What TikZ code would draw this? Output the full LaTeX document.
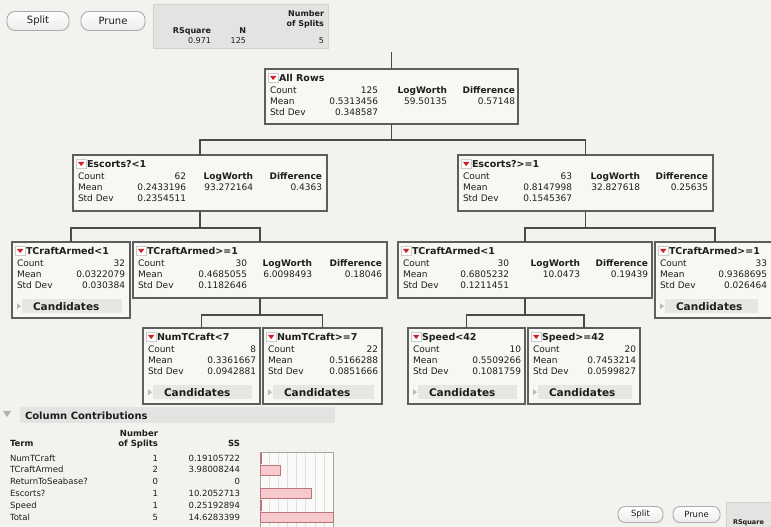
\documentclass[tikz,border=0pt]{standalone}
\usepackage{fontspec}
\setmainfont{DejaVu Sans}
\usetikzlibrary{calc}
\definecolor{bgcol}{HTML}{F2F2EE}
\definecolor{boxfill}{HTML}{F7F7F4}
\definecolor{boxline}{HTML}{5E5E5E}
\definecolor{conncol}{HTML}{4A4A4A}
\definecolor{panelcol}{HTML}{E3E3E1}
\definecolor{candfill}{HTML}{E6E6E3}
\definecolor{txtc}{HTML}{1E1E1E}
\definecolor{redtri}{HTML}{D0202A}
\definecolor{pinkbar}{HTML}{F7C9CD}
\definecolor{pinkline}{HTML}{B9747C}
\tikzset{
 box/.style={draw=boxline, line width=1.2pt, fill=boxfill, inner sep=0pt, outer sep=0pt, rectangle},
 txt/.style={inner sep=0pt, outer sep=0pt, text=txtc, font=\fontsize{9}{11}\selectfont},
 hdr/.style={txt, font=\fontsize{9}{11}\selectfont\bfseries},
 ttl/.style={txt, font=\fontsize{9.5}{11}\selectfont\bfseries},
 cand/.style={txt, font=\fontsize{10.5}{12}\selectfont\bfseries},
 ptxt/.style={txt, font=\fontsize{8}{10}\selectfont},
 phdr/.style={txt, font=\fontsize{8}{10}\selectfont\bfseries},
 ctxt/.style={txt, font=\fontsize{8.5}{10}\selectfont},
 chdr/.style={txt, font=\fontsize{8.5}{10}\selectfont\bfseries},
 connline/.style={draw=conncol, line width=1.1pt},
 btn/.style={draw=gray!65, line width=0.9pt, rounded corners=8pt, top color=white, bottom color=gray!15, inner sep=0pt, text=txtc},
 panelbox/.style={fill=panelcol, draw=gray!35, line width=0.6pt, inner sep=0pt, outer sep=0pt, anchor=north west},
}
\newcommand{\jbox}[5]{\node[box, minimum width=#4pt, minimum height=#5pt, anchor=north west] (#1) at (#2,#3) {};}
\newcommand{\jtitle}[2]{%
 \node[draw=gray!40, fill=white, line width=0.4pt, minimum width=10pt, minimum height=9pt, inner sep=0pt, anchor=north west] (#1-ic) at ([xshift=3pt,yshift=-4pt]#1.north west) {};
 \fill[redtri] ([xshift=-3.2pt,yshift=1.8pt]#1-ic.center) -- ([xshift=3.2pt,yshift=1.8pt]#1-ic.center) -- ([yshift=-2.4pt]#1-ic.center) -- cycle;
 \node[ttl, anchor=base west] (#1-t) at ([xshift=14pt,yshift=-12.5pt]#1.north west) {#2};
}
\newcommand{\jstats}[5]{%
 \node[txt, anchor=base west] (#1-cl) at ([xshift=5pt,yshift=-24pt]#1.north west) {Count};
 \node[txt, anchor=base east] (#1-cv) at ([xshift=#2pt,yshift=-24pt]#1.north west) {#3};
 \node[txt, anchor=base west] (#1-ml) at ([xshift=5pt,yshift=-35pt]#1.north west) {Mean};
 \node[txt, anchor=base east] (#1-mv) at ([xshift=#2pt,yshift=-35pt]#1.north west) {#4};
 \node[txt, anchor=base west] (#1-sl) at ([xshift=5pt,yshift=-46pt]#1.north west) {Std Dev};
 \node[txt, anchor=base east] (#1-sv) at ([xshift=#2pt,yshift=-46pt]#1.north west) {#5};
}
\newcommand{\jsplit}[5]{%
 \node[hdr, anchor=base east] (#1-lh) at ([xshift=#2pt,yshift=-24pt]#1.north west) {LogWorth};
 \node[txt, anchor=base east] (#1-lv) at ([xshift=#2pt,yshift=-35pt]#1.north west) {#4};
 \node[hdr, anchor=base east] (#1-dh) at ([xshift=#3pt,yshift=-24pt]#1.north west) {Difference};
 \node[txt, anchor=base east] (#1-dv) at ([xshift=#3pt,yshift=-35pt]#1.north west) {#5};
}
\newcommand{\jcand}[2]{%
 \node[fill=candfill, minimum width=#2pt, minimum height=14pt, inner sep=0pt, anchor=north west] (#1-cb) at ([xshift=10pt,yshift=-57pt]#1.north west) {};
 \fill[gray!55] ([xshift=-5pt,yshift=3pt]#1-cb.west) -- ([xshift=-5pt,yshift=-3pt]#1-cb.west) -- ([xshift=-1pt]#1-cb.west) -- cycle;
 \node[cand, anchor=base west] (#1-ct) at ([xshift=11pt,yshift=-4pt]#1-cb.west) {Candidates};
}
\begin{document}
\begin{tikzpicture}[x=1pt,y=-1pt]
\useasboundingbox (0,0) rectangle (771,527);
\clip (0,0) rectangle (771,527);
\fill[bgcol] (0,0) rectangle (771,527);

% top buttons and summary panel
\node[btn, minimum width=62pt, minimum height=19pt, font=\fontsize{10}{12}\selectfont] (bsplit) at (38,21) {Split};
\node[btn, minimum width=64pt, minimum height=19pt, font=\fontsize{10}{12}\selectfont] (bprune) at (113,21) {Prune};
\node[panelbox, minimum width=175pt, minimum height=44pt] (pnl) at (153,4) {};
\node[phdr, anchor=base east] (pnum) at (324,17) {Number};
\node[phdr, anchor=base east] (pofs) at (324,27) {of Splits};
\node[phdr, anchor=base east] (prsq) at (211,34) {RSquare};
\node[phdr, anchor=base east] (pn) at (246,34) {N};
\node[ptxt, anchor=base east] (pv1) at (211,44) {0.971};
\node[ptxt, anchor=base east] (pv2) at (246,44) {125};
\node[ptxt, anchor=base east] (pv3) at (324,44) {5};

% tree boxes
\jbox{root}{265}{69}{253}{55}
\jtitle{root}{All Rows}
\jstats{root}{113}{125}{0.5313456}{0.348587}
\jsplit{root}{182}{250}{59.50135}{0.57148}

\jbox{e1}{73}{155}{254}{56}
\jtitle{e1}{Escorts?<1}
\jstats{e1}{113}{62}{0.2433196}{0.2354511}
\jsplit{e1}{180}{249}{93.272164}{0.4363}

\jbox{e2}{458}{155}{255}{56}
\jtitle{e2}{Escorts?>=1}
\jstats{e2}{114}{63}{0.8147998}{0.1545367}
\jsplit{e2}{182}{250}{32.827618}{0.25635}

\jbox{a1}{12}{242}{118}{76}
\jtitle{a1}{TCraftArmed<1}
\jstats{a1}{113}{32}{0.0322079}{0.030384}
\jcand{a1}{100}

\jbox{a2}{133}{242}{254}{56}
\jtitle{a2}{TCraftArmed>=1}
\jstats{a2}{114}{30}{0.4685055}{0.1182646}
\jsplit{a2}{179}{249}{6.0098493}{0.18046}

\jbox{a3}{398}{242}{254}{56}
\jtitle{a3}{TCraftArmed<1}
\jstats{a3}{111}{30}{0.6805232}{0.1211451}
\jsplit{a3}{182}{250}{10.0473}{0.19439}

\jbox{a4}{655}{242}{120}{76}
\jtitle{a4}{TCraftArmed>=1}
\jstats{a4}{112}{33}{0.9368695}{0.026464}
\jcand{a4}{93}

\jbox{n1}{143}{328}{117}{76}
\jtitle{n1}{NumTCraft<7}
\jstats{n1}{113}{8}{0.3361667}{0.0942881}
\jcand{n1}{99}

\jbox{n2}{263}{328}{119}{76}
\jtitle{n2}{NumTCraft>=7}
\jstats{n2}{115}{22}{0.5166288}{0.0851666}
\jcand{n2}{101}

\jbox{s1}{408}{328}{117}{76}
\jtitle{s1}{Speed<42}
\jstats{s1}{113}{10}{0.5509266}{0.1081759}
\jcand{s1}{99}

\jbox{s2}{528}{328}{112}{76}
\jtitle{s2}{Speed>=42}
\jstats{s2}{108}{20}{0.7453214}{0.0599827}
\jcand{s2}{94}

% connectors
\coordinate (topc) at (391.5,52);
\draw[connline] (topc) -- (root.north);
\draw[connline] (root.south) -- ++(0,16);
\draw[connline] (e1.north) -- ++(0,-15) -| (e2.north);
\draw[connline] (e1.south) -- ++(0,17);
\draw[connline] (a1.north) -- ++(0,-14) -| (a2.north);
\draw[connline] (e2.south) -- ++(0,17);
\draw[connline] (a3.north) -- ++(0,-14) -| (a4.north);
\draw[connline] (a2.south) -- ++(0,17);
\draw[connline] (n1.north) -- ++(0,-13) -| (n2.north);
\draw[connline] (a3.south) -- ++(0,17);
\draw[connline] (s1.north) -- ++(0,-13) -| (s2.north);

% column contributions
\fill[gray!60] (3,411) -- (11,411) -- (7,417) -- cycle;
\node[panelbox, draw=none, minimum width=315pt, minimum height=16pt] (cchead) at (20,407) {};
\node[txt, font=\fontsize{10}{12}\selectfont\bfseries, anchor=base west] (cctitle) at (25,419) {Column Contributions};
\node[chdr, anchor=base east] (thnum) at (158,436) {Number};
\node[chdr, anchor=base east] (thofs) at (158,446) {of Splits};
\node[chdr, anchor=base west] (thterm) at (10,446) {Term};
\node[chdr, anchor=base east] (thss) at (240,446) {SS};

% chart frame and grid
\fill[white!60!bgcol] (260,452) rectangle (333,530);
\foreach \k in {1,...,7} {\draw[gray!25, line width=0.5pt] ({260+73*\k/8},452) -- ({260+73*\k/8},530);}
\draw[gray!70, line width=0.7pt] (260,530) -- (260,452) -- (333,452) -- (333,530);

\node[ctxt, anchor=base west] (r1t) at (10,461) {NumTCraft};
\node[ctxt, anchor=base east] (r1n) at (158,461) {1};
\node[ctxt, anchor=base east] (r1s) at (240,461) {0.19105722};
\node[ctxt, anchor=base west] (r2t) at (10,472.8) {TCraftArmed};
\node[ctxt, anchor=base east] (r2n) at (158,472.8) {2};
\node[ctxt, anchor=base east] (r2s) at (240,472.8) {3.98008244};
\node[ctxt, anchor=base west] (r3t) at (10,484.6) {ReturnToSeabase?};
\node[ctxt, anchor=base east] (r3n) at (158,484.6) {0};
\node[ctxt, anchor=base east] (r3s) at (240,484.6) {0};
\node[ctxt, anchor=base west] (r4t) at (10,496.4) {Escorts?};
\node[ctxt, anchor=base east] (r4n) at (158,496.4) {1};
\node[ctxt, anchor=base east] (r4s) at (240,496.4) {10.2052713};
\node[ctxt, anchor=base west] (r5t) at (10,508.2) {Speed};
\node[ctxt, anchor=base east] (r5n) at (158,508.2) {1};
\node[ctxt, anchor=base east] (r5s) at (240,508.2) {0.25192894};
\node[ctxt, anchor=base west] (r6t) at (10,520) {Total};
\node[ctxt, anchor=base east] (r6n) at (158,520) {5};
\node[ctxt, anchor=base east] (r6s) at (240,520) {14.6283399};

\filldraw[fill=pinkbar, draw=pinkline, line width=0.6pt] (260,453) rectangle (261.2,463);
\filldraw[fill=pinkbar, draw=pinkline, line width=0.6pt] (260,464.8) rectangle (280,474.8);
\filldraw[fill=pinkbar, draw=pinkline, line width=0.6pt] (260,488.4) rectangle (311,498.4);
\filldraw[fill=pinkbar, draw=pinkline, line width=0.6pt] (260,500.2) rectangle (261.5,510.2);
\filldraw[fill=pinkbar, draw=pinkline, line width=0.6pt] (260,512) rectangle (333,522);

% bottom right controls
\node[btn, minimum width=45pt, minimum height=16pt, rounded corners=7pt, font=\fontsize{8.5}{10}\selectfont] (bsplit2) at (640.5,514.5) {Split};
\node[btn, minimum width=47pt, minimum height=16pt, rounded corners=7pt, font=\fontsize{8.5}{10}\selectfont] (bprune2) at (696.5,514.5) {Prune};
\node[panelbox, minimum width=50pt, minimum height=30pt] (pnl2) at (726,502) {};
\node[txt, font=\fontsize{6.5}{8}\selectfont\bfseries, anchor=base west] (rsq2) at (733,524) {RSquare};
\end{tikzpicture}
\end{document}
